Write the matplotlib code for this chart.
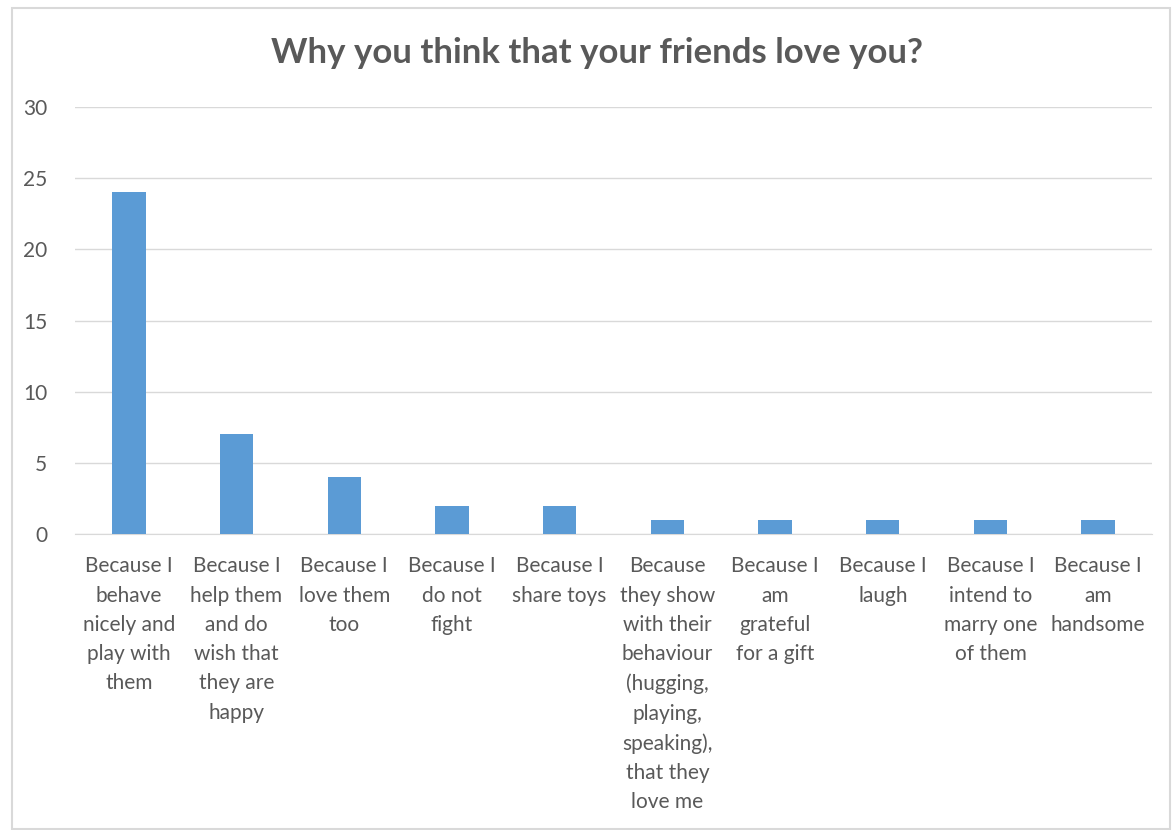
import matplotlib.pyplot as plt
import matplotlib.patches as mpatches
import numpy as np

plt.rcParams['font.family'] = ['Lato', 'DejaVu Sans']

# answers and counts
reasons = [
    'Because I\nbehave\nnicely and\nplay with\nthem',
    'Because I\nhelp them\nand do\nwish that\nthey are\nhappy',
    'Because I\nlove them\ntoo',
    'Because I\ndo not\nfight',
    'Because I\nshare toys',
    'Because\nthey show\nwith their\nbehaviour\n(hugging,\nplaying,\nspeaking),\nthat they\nlove me',
    'Because I\nam\ngrateful\nfor a gift',
    'Because I\nlaugh',
    'Because I\nintend to\nmarry one\nof them',
    'Because I\nam\nhandsome',
]
counts = [24, 7, 4, 2, 2, 1, 1, 1, 1, 1]
yticks = [0, 5, 10, 15, 20, 25, 30]

grey = '#595959'

fig = plt.figure(figsize=(11.76, 8.30), dpi=100)
ax = fig.add_axes([75 / 1176, (830 - 534) / 830, (1152 - 75) / 1176, (534 - 107) / 830])

x = np.arange(len(counts))
ax.bar(x, counts, width=0.31, color='#5B9BD5', zorder=3)

ax.set_xlim(-0.5, len(counts) - 0.5)
ax.set_ylim(0, 30)
ax.set_yticks(yticks)
ax.set_xticks(x)
ax.set_xticklabels(reasons, fontsize=15, color=grey, linespacing=1.58, va='top')
ax.tick_params(axis='y', labelsize=15, labelcolor=grey, length=0, pad=20)
ax.tick_params(axis='x', length=0, pad=16)
ax.grid(axis='y', color='#d9d9d9', linewidth=1, zorder=0)
for s in ['top', 'right', 'left']:
    ax.spines[s].set_visible(False)
ax.spines['bottom'].set_color('#d9d9d9')

fig.text(597 / 1176, 1 - 53 / 830, 'Why you think that your friends love you?',
         ha='center', va='center', fontsize=25, fontweight='bold', color=grey)

# outer chart border
fig.patches.append(mpatches.Rectangle((12 / 1176, 1 / 830), (1170 - 12) / 1176, (822 - 1) / 830,
                                      transform=fig.transFigure, fill=False,
                                      edgecolor='#d9d9d9', linewidth=1.5))

fig.savefig('out.png', dpi=100)
